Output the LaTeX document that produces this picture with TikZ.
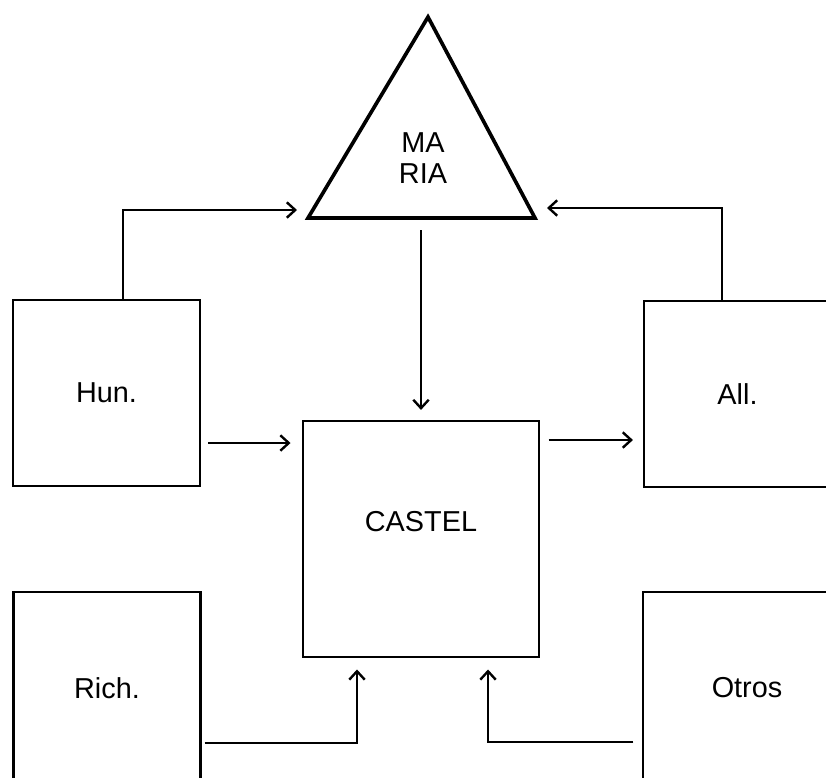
\documentclass[tikz,border=0pt]{standalone}
\usepackage{fontspec}
\setmainfont{Liberation Sans}
\usetikzlibrary{arrows.meta}

\begin{document}
\begin{tikzpicture}[x=0.025cm,y=-0.025cm,->,>={Straight Barb[length=6pt,width=11pt]},
                    line width=1.7pt,
                    font=\fontsize{20.5}{21.5}\selectfont]
  \tikzstyle{every node}=[inner sep=0pt]
  \tikzstyle{box}=[draw,-,minimum width=4.675cm,minimum height=4.65cm]

  \useasboundingbox (0,0) rectangle (826,777);
  \clip (0,0) rectangle (826,777);

  % triangle
  \coordinate (apex) at (428,17);
  \coordinate (bl)   at (308,218);
  \coordinate (br)   at (535,218);
  \draw[-,line width=2.6pt] (apex) -- (bl) -- (br) -- cycle;
  \node[align=center] (maria) at (423,158) {MA\\RIA};

  \node[box]                    (hun)    at (106.5,393) {Hun.};
  \node[box]                    (all)    at (737.5,394) {All.};
  \node[box,minimum height=4.8cm] (rich) at (107,688)   {Rich.};
  \node[box,minimum width=5.2cm,minimum height=4.8cm] (otros) at (747,688) {Otros};
  \node[box,minimum size=5.9cm,text depth=0.9cm] (castel) at (421,539) {CASTEL};

  \coordinate (hm) at (123,210);
  \coordinate (mL) at (297,210);
  \coordinate (am) at (722,208);
  \coordinate (mR) at (547,208);
  \coordinate (mB) at (421,230);
  \coordinate (hc) at (0,443);
  \coordinate (ca) at (0,440);
  \coordinate (rc) at (357,743);
  \coordinate (oc) at (488,742);

  \draw (hun.north -| hm) |- (mL);
  \draw (all.north -| am) |- (mR);
  \draw[shorten >=7pt] (mB) -- (castel.north);
  \draw[shorten <=5pt,shorten >=8pt] (hun.east |- hc) -- (castel.west |- hc);
  \draw[shorten <=6pt,shorten >=7pt] (castel.east |- ca) -- (all.west |- ca);
  \draw[shorten <=2pt,shorten >=8pt] (rich.east |- rc) -| (castel.south -| rc);
  \draw[shorten <=6pt,shorten >=8pt] (otros.west |- oc) -| (castel.south -| oc);
\end{tikzpicture}
\end{document}
